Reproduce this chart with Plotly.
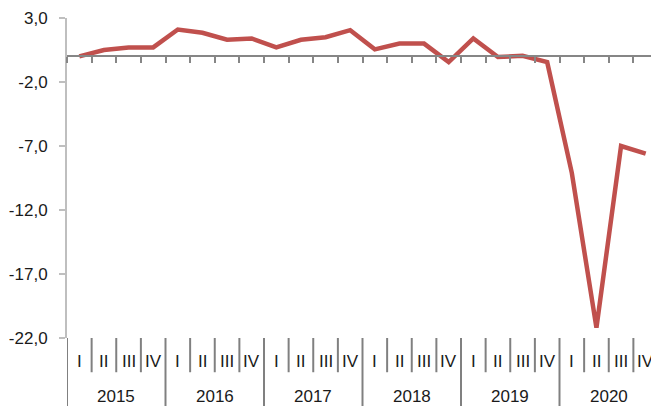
import plotly.graph_objects as go

years = ["2015", "2016", "2017", "2018", "2019", "2020"]
quarters = ["I", "II", "III", "IV"]
values = [0.0, 0.5, 0.7, 0.7,
          2.1, 1.85, 1.3, 1.4,
          0.7, 1.3, 1.5, 2.05,
          0.55, 1.0, 1.0, -0.45,
          1.4, -0.05, 0.05, -0.45,
          -9.1, -21.2, -7.0, -7.6]
y_ticks = [3, -2, -7, -12, -17, -22]
y_ticktext = [f"{v:.1f}".replace(".", ",") for v in y_ticks]

n = len(values)
xs = list(range(n))

FONT = "Liberation Sans Narrow, Arial Narrow, Liberation Sans, Arial, sans-serif"
TXT = "#1a1a1a"
SEP = "#808080"

fig = go.Figure()
fig.add_trace(go.Scatter(x=xs, y=values, mode="lines",
                         line=dict(color="#c0504d", width=4.5),
                         hoverinfo="skip", showlegend=False))

q_label_y = -0.073
y_label_y = -0.184
q_sep_bottom = -0.107
y_sep_bottom = -0.23

annotations = []
shapes = []
for i in range(n):
    annotations.append(dict(x=i, y=q_label_y, xref="x", yref="paper",
                            text=quarters[i % 4], showarrow=False,
                            font=dict(family=FONT, size=17, color=TXT),
                            xanchor="center", yanchor="middle"))
for k, yr in enumerate(years):
    annotations.append(dict(x=k * 4 + 1.5, y=y_label_y, xref="x", yref="paper",
                            text=yr, showarrow=False,
                            font=dict(family=FONT, size=17, color=TXT),
                            xanchor="center", yanchor="middle"))
for b in range(n + 1):
    xb = b - 0.5
    y1 = y_sep_bottom if b % 4 == 0 else q_sep_bottom
    shapes.append(dict(type="line", xref="x", yref="paper",
                       x0=xb, x1=xb, y0=0, y1=y1,
                       line=dict(color=SEP, width=2)))

# the page body adds an 8px margin, so the figure is 8px smaller
fig.update_layout(
    width=651, height=398,
    margin=dict(l=53, r=1, t=6, b=68),
    paper_bgcolor="white", plot_bgcolor="white",
    showlegend=False,
    xaxis=dict(range=[-0.5, n - 0.5], anchor="free", position=22 / 25,
               showline=True, linecolor="#868686", linewidth=2,
               ticks="outside", tickvals=[b - 0.5 for b in range(n + 1)],
               ticklen=6, tickwidth=2, tickcolor="#868686",
               showticklabels=False, showgrid=False, zeroline=False,
               fixedrange=True),
    yaxis=dict(range=[-22, 3], tickvals=y_ticks, ticktext=y_ticktext,
               showline=True, linecolor="#bfbfbf", linewidth=2,
               ticks="outside", ticklen=6, tickwidth=1.5, tickcolor="#bfbfbf",
               ticklabelstandoff=8, ticklabeloverflow="allow",
               tickfont=dict(family=FONT, size=17, color=TXT),
               showgrid=False, zeroline=False, fixedrange=True),
    annotations=annotations,
    shapes=shapes,
)

fig.write_html("out.html")
